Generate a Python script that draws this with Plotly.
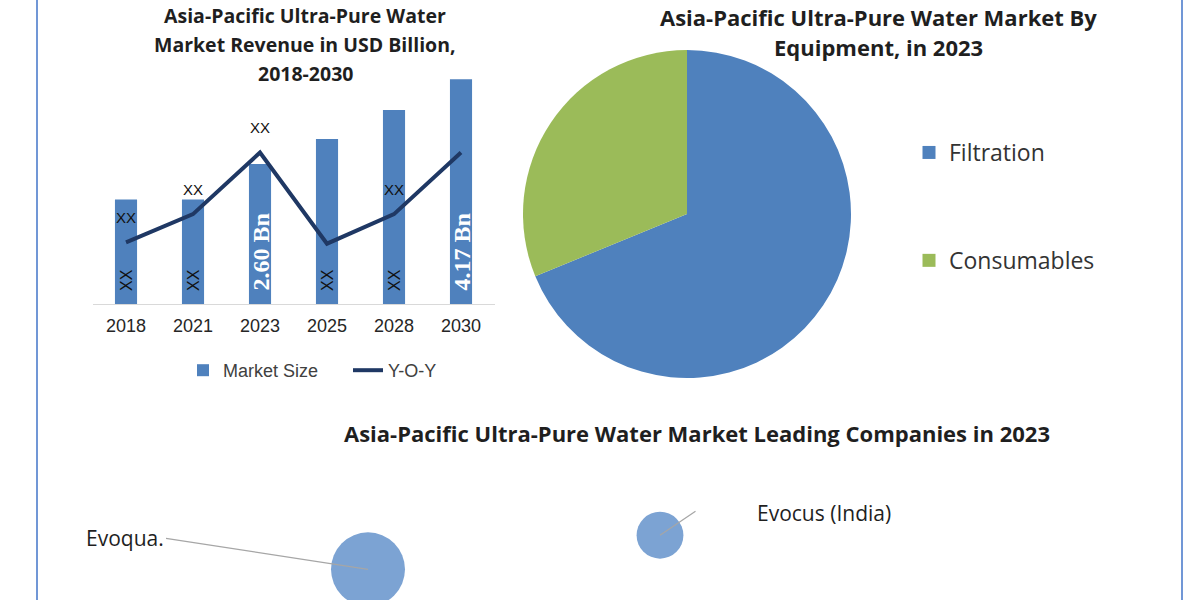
import plotly.graph_objects as go

# ---------------- data ----------------
years = ["2018", "2021", "2023", "2025", "2028", "2030"]
market_size = [1.94, 1.94, 2.60, 3.06, 3.60, 4.17]
bar_labels = ["XX", "XX", "2.60 Bn", "XX", "XX", "4.17 Bn"]
yoy = [5.0, 7.3, 12.3, 4.9, 7.3, 12.3]
yoy_labels = ["XX", "XX", "XX", "", "XX", ""]

equipment = ["Filtration", "Consumables"]
equipment_share = [68.8, 31.2]

companies = ["Evoqua.", "Evocus (India)"]
company_x = [1.0, 2.0]
company_y = [1.0, 2.0]
company_size = [2.5, 1.0]

bar_title_lines = ["Asia-Pacific Ultra-Pure Water", "Market Revenue in USD Billion,", "2018-2030"]
pie_title_lines = ["Asia-Pacific Ultra-Pure Water Market By", "Equipment, in 2023"]
bubble_title = "Asia-Pacific Ultra-Pure Water Market Leading Companies in 2023"

# ---------------- styles ----------------
BLUE = "#4F81BD"
GREEN = "#9BBB59"
NAVY = "#1F3864"
BUBBLE = "#7CA3D3"
BORDER = "#7197D6"
TXT = "#1F1F1F"
SANS = "Liberation Sans, Arial, sans-serif"
SERIF = "Liberation Serif, Times New Roman, serif"
CAL = "Open Sans, Lato, sans-serif"
W, H = 1200, 600

def px(x):
    return x / W

def py(y):
    return 1 - y / H

fig = go.Figure()

# ---- bar chart ----
fig.add_trace(go.Bar(
    x=years, y=market_size, name="Market Size",
    marker=dict(color=BLUE, line=dict(width=0)),
    xaxis="x", yaxis="y", legend="legend", hoverinfo="skip",
))
fig.add_trace(go.Scatter(
    x=years, y=yoy, name="Y-O-Y", mode="lines",
    line=dict(color=NAVY, width=4),
    xaxis="x", yaxis="y2", legend="legend", hoverinfo="skip",
))

# value labels inside the bars (rotated, anchored at the bar base)
for i, lab in enumerate(bar_labels):
    bn = lab.endswith("Bn")
    fig.add_annotation(x=i, y=0, xref="x", yref="y", text=f"<b>{lab}</b>" if bn else lab,
                       showarrow=False, textangle=-90,
                       xanchor="center", yanchor="bottom", yshift=11,
                       font=dict(family=SERIF if bn else SANS,
                                 size=24 if bn else 16,
                                 color="white" if bn else "#111111"))

# Y-O-Y labels above the line
for i, (v, lab) in enumerate(zip(yoy, yoy_labels)):
    if lab:
        fig.add_annotation(x=i, y=v, xref="x", yref="y2", text=lab,
                           showarrow=False, yshift=25,
                           font=dict(family=SANS, size=15, color="#111111"))

# ---- pie chart ----
pie_colors = [BLUE, GREEN]
cx, cy, r = 687, 214, 164
fig.add_trace(go.Pie(
    labels=equipment, values=equipment_share, sort=False,
    direction="clockwise", rotation=0, textinfo="none",
    marker=dict(colors=pie_colors, line=dict(width=0)),
    domain=dict(x=[px(cx - r), px(cx + r)], y=[py(cy + r), py(cy - r)]),
    showlegend=False, hoverinfo="skip",
))
for lab, col in zip(equipment, pie_colors):
    fig.add_trace(go.Scatter(
        x=[None], y=[None], mode="markers", name=lab,
        marker=dict(symbol="square", size=13, color=col),
        legend="legend2", legendgroup=lab, xaxis="x3", yaxis="y3",
        hoverinfo="skip",
    ))

# ---- bubble chart ----
max_d = 74
fig.add_trace(go.Scatter(
    x=company_x, y=company_y, mode="markers", name="Companies",
    marker=dict(size=company_size, sizemode="area",
                sizeref=2.0 * max(company_size) / max_d ** 2,
                color=BUBBLE, line=dict(width=0), opacity=1),
    xaxis="x3", yaxis="y3", showlegend=False, cliponaxis=False,
    hoverinfo="skip",
))

# Evoqua label with straight leader
fig.add_annotation(x=company_x[0], y=company_y[0], xref="x3", yref="y3",
                   text=companies[0], showarrow=True, arrowhead=0,
                   arrowwidth=1.2, arrowcolor="#A6A6A6",
                   ax=-202, ay=-31, xanchor="right", yanchor="middle",
                   standoff=0, startstandoff=0,
                   font=dict(family=CAL, size=21, color=TXT))
# Evocus leader line and label
fig.add_annotation(x=company_x[1], y=company_y[1], xref="x3", yref="y3",
                   text="", showarrow=True, arrowhead=0,
                   arrowwidth=1.2, arrowcolor="#A6A6A6",
                   ax=37, ay=-25, standoff=0)
fig.add_annotation(x=company_x[1], y=company_y[1], xref="x3", yref="y3",
                   text=companies[1], showarrow=False,
                   xanchor="left", yanchor="middle", xshift=95, yshift=22,
                   font=dict(family=CAL, size=21, color=TXT))

# ---- titles ----
for i, line in enumerate(bar_title_lines):
    fig.add_annotation(x=px(305), y=py(15 + 29 * i), xref="paper", yref="paper",
                       text=f"<b>{line}</b>", showarrow=False,
                       xanchor="center", yanchor="middle",
                       font=dict(family=CAL, size=19.5, color=TXT))
for i, line in enumerate(pie_title_lines):
    fig.add_annotation(x=px(878), y=py(17 + 30 * i), xref="paper", yref="paper",
                       text=f"<b>{line}</b>", showarrow=False,
                       xanchor="center", yanchor="middle",
                       font=dict(family=CAL, size=22, color=TXT))
fig.add_annotation(x=px(697), y=py(433), xref="paper", yref="paper",
                   text=f"<b>{bubble_title}</b>", showarrow=False,
                   xanchor="center", yanchor="middle",
                   font=dict(family=CAL, size=22, color=TXT))

# ---- frame ----
fig.add_shape(type="rect", xref="paper", yref="paper",
              x0=px(37), x1=px(1182), y0=-0.05, y1=1.05,
              line=dict(color=BORDER, width=2), fillcolor="rgba(0,0,0,0)",
              layer="above")

fig.update_layout(
    width=W, height=H, margin=dict(l=0, r=0, t=0, b=0, autoexpand=False),
    paper_bgcolor="white", plot_bgcolor="rgba(0,0,0,0)",
    bargap=0.67, hovermode=False,
    xaxis=dict(domain=[px(92.5), px(494.5)], type="category",
               range=[-0.5, len(years) - 0.5],
               showline=True, linecolor="#D9D9D9", linewidth=1,
               ticks="", showgrid=False, zeroline=False,
               tickfont=dict(family=SANS, size=18, color="#262626"),
               ticklabelstandoff=5, anchor="y", fixedrange=True),
    yaxis=dict(domain=[py(304), py(75)], range=[0, 4.25], visible=False,
               anchor="x", fixedrange=True),
    yaxis2=dict(overlaying="y", range=[0, 18.6], visible=False,
                anchor="x", fixedrange=True),
    xaxis3=dict(domain=[px(76), px(1098)], range=[0, 3.5], visible=False,
                anchor="y3", fixedrange=True),
    yaxis3=dict(domain=[0, 0.25], range=[0.1, 4.5], visible=False,
                anchor="x3", fixedrange=True),
    legend=dict(orientation="h", x=px(183), y=py(352), xanchor="left",
                yanchor="top", font=dict(family=SANS, size=18, color="#404040"),
                bgcolor="rgba(0,0,0,0)", entrywidth=120, itemclick=False,
                itemdoubleclick=False),
    legend2=dict(orientation="v", x=px(909), y=py(131), xanchor="left",
                 yanchor="top", font=dict(family=CAL, size=23, color="#333333"),
                 bgcolor="rgba(0,0,0,0)", tracegroupgap=75, itemclick=False,
                 itemdoubleclick=False),
)

fig.write_html("out.html")
